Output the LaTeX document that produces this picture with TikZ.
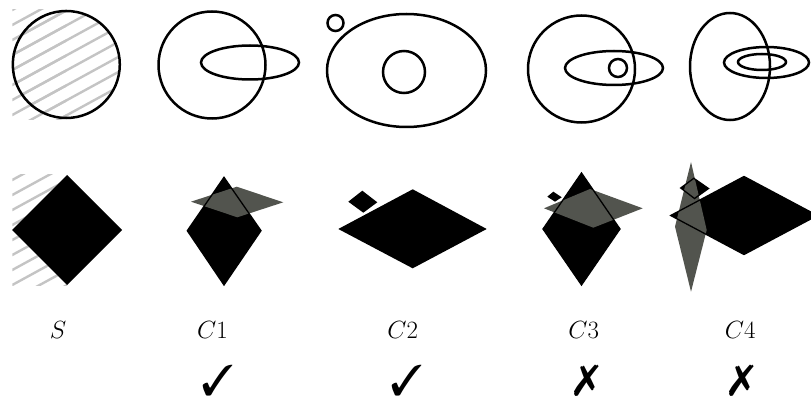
\documentclass[tikz,border=0pt]{standalone}
\usepackage{pifont}
\definecolor{hatchgray}{RGB}{196,196,196}
\definecolor{shadegray}{RGB}{82,84,78}
\begin{document}
\begin{tikzpicture}[x=1pt,y=-1pt,
  ring/.style={draw=black,line width=2.5pt},
  hatchline/.style={draw=hatchgray,line width=2.4pt},
  blackpoly/.style={fill=black},
  graypoly/.style={fill=shadegray},
  outline/.style={draw=black,line width=1.3pt,line join=miter},
  lbl/.style={inner sep=0pt,anchor=base,font=\fontsize{30}{36}\selectfont},
  verdict/.style={inner sep=0pt,font=\fontsize{43}{50}\selectfont}]
\useasboundingbox (0,0) rectangle (811,398);
\clip (0,0) rectangle (811,398);

% ---------- S (top) ----------
\begin{scope}
  \clip (12.3,10) rectangle (66.3,119.5);
  \foreach \c in {-120,-105,...,240} \draw[hatchline] (0,\c+31.7) -- ++(150,-82);
\end{scope}
\begin{scope}
  \clip (66.3,64.5) circle (54);
  \foreach \c in {-120,-105,...,240} \draw[hatchline] (0,\c+31.7) -- ++(150,-82);
\end{scope}
\draw[ring] (66.3,64.5) circle (53.5);

% ---------- C1 (top) ----------
\draw[ring] (212,65) circle (53.5);
\draw[ring] (250,62.5) ellipse (49 and 17);

% ---------- C2 (top) ----------
\draw[ring] (406.5,70.5) ellipse (79.5 and 56.5);
\draw[ring] (404,72) circle (21);
\draw[ring] (335.5,23) circle (8);

% ---------- C3 (top) ----------
\draw[ring] (581.5,69) circle (53.5);
\draw[ring] (614,68) ellipse (49 and 17);
\draw[ring] (618,68) circle (9);

% ---------- C4 (top) ----------
\draw[ring] (730,66.5) ellipse (40 and 53.5);
\draw[ring] (766.5,62.5) ellipse (42.5 and 15.5);
\draw[ring] (762,62) ellipse (24 and 8);

% ---------- S (bottom) ----------
\begin{scope}
  \clip (12.3,175) rectangle (67,285);
  \foreach \c in {-60,-45,...,240} \draw[hatchline] (0,\c+186.7) -- ++(150,-82);
\end{scope}
\fill[blackpoly] (67,175) -- (122,230) -- (67,285) -- (12,230) -- cycle;

% ---------- C1 (bottom) ----------
\fill[blackpoly] (224,177.3) -- (261,230.7) -- (224,285) -- (187.3,230.7) -- cycle;
\fill[graypoly] (191,201.7) -- (236.7,186.7) -- (283.3,202.3) -- (237.3,217.3) -- cycle;
\draw[outline] (224,177.3) -- (261,230.7) -- (224,285) -- (187.3,230.7) -- cycle;

% ---------- C2 (bottom) ----------
\fill[blackpoly] (338.3,229) -- (412.7,189.3) -- (486.7,229) -- (412.7,268.3) -- cycle;
\fill[blackpoly] (348.3,201.7) -- (362.3,190.7) -- (377.3,202.3) -- (363.3,212.7) -- cycle;

% ---------- C3 (bottom) ----------
\fill[blackpoly] (581.5,173) -- (620,229) -- (581.5,285) -- (543,229) -- cycle;
\fill[blackpoly] (547.3,196.7) -- (553.3,191.7) -- (561.7,197.3) -- (555,201.7) -- cycle;
\fill[graypoly] (544,208.3) -- (590,189) -- (642.7,208.3) -- (593.3,227.7) -- cycle;
\draw[outline] (581.5,173) -- (620,229) -- (581.5,285) -- (543,229) -- cycle;

% ---------- C4 (bottom) ----------
\fill[blackpoly] (670.7,215.5) -- (744,176.5) -- (817.3,215.5) -- (744,254.5) -- cycle;
\fill[blackpoly] (680.7,188) -- (693.8,178.3) -- (708.5,188.5) -- (694.5,198.5) -- cycle;
\fill[graypoly] (691,162) -- (706.7,230) -- (691,291.7) -- (675,226.7) -- cycle;
\draw[outline] (670.7,215.5) -- (744,176.5) -- (817.3,215.5) -- (744,254.5) -- cycle;
\draw[outline] (680.7,188) -- (693.8,178.3) -- (708.5,188.5) -- (694.5,198.5) -- cycle;

% ---------- labels ----------
\node[lbl] (lS)  at (58,338)    {$S$};
\node[lbl] (lC1) at (212.5,338) {$C1$};
\node[lbl] (lC2) at (402.7,338) {$C2$};
\node[lbl] (lC3) at (583.7,338) {$C3$};
\node[lbl] (lC4) at (740.3,338) {$C4$};

\node[verdict] (k1) at (217.5,381) {\ding{51}};
\node[verdict] (k2) at (406.7,381) {\ding{51}};
\node[verdict] (k3) at (586.5,381) {\ding{55}};
\node[verdict] (k4) at (741.5,381) {\ding{55}};
\end{tikzpicture}
\end{document}
